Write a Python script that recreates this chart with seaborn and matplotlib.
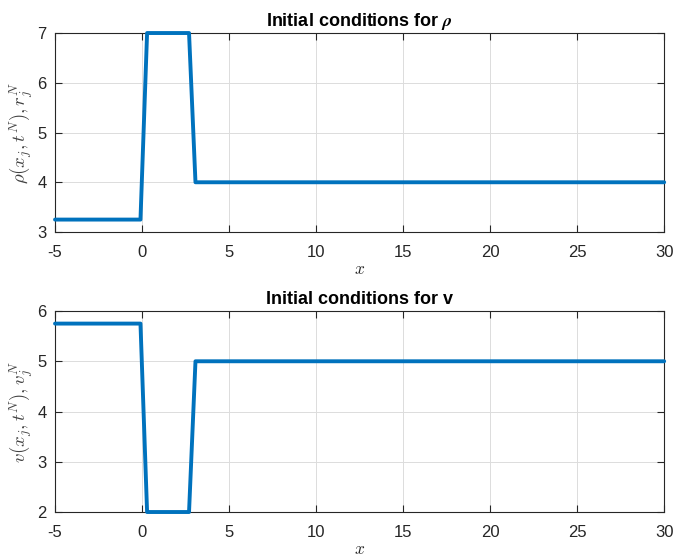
import matplotlib
matplotlib.use("Agg")
import matplotlib.pyplot as plt
import seaborn as sns
import pandas as pd

# Initial state sampled on the grid
x_nodes = [-5.0, -0.09, 0.29, 2.70, 3.07, 30.0]
rho_vals = [3.25, 3.25, 7.0, 7.0, 4.0, 4.0]
v_vals = [5.75, 5.75, 2.0, 2.0, 5.0, 5.0]

x_ticks = [-5, 0, 5, 10, 15, 20, 25, 30]
rho_ticks = [3, 4, 5, 6, 7]
v_ticks = [2, 3, 4, 5, 6]

sns.set_theme(style="whitegrid")
plt.rcParams["font.family"] = ["Liberation Sans", "DejaVu Sans"]
plt.rcParams["mathtext.fontset"] = "cm"

line_color = "#0072BD"
dark = "#262626"

fig = plt.figure(figsize=(6.75, 5.56), dpi=100)
ax1 = fig.add_axes([0.0815, 0.5827, 0.9025, 0.3579])
ax2 = fig.add_axes([0.0815, 0.0791, 0.9025, 0.3615])

df = pd.DataFrame({"x": x_nodes, "rho": rho_vals, "v": v_vals})

panels = [
    (ax1, "rho", rho_ticks, r"$\rho(x_j,t^N),r_j^N$", r"Initial conditions for $\boldsymbol{\rho}$"),
    (ax2, "v", v_ticks, r"$v(x_j,t^N),v_j^N$", "Initial conditions for v"),
]

for ax, col, yt, ylab, title in panels:
    sns.lineplot(data=df, x="x", y=col, ax=ax, color=line_color,
                 linewidth=2.8, sort=False, estimator=None, clip_on=False,
                 zorder=3)
    ax.set_xlim(-5, 30)
    ax.set_ylim(yt[0], yt[-1])
    ax.set_xticks(x_ticks)
    ax.set_yticks(yt)
    ax.set_xticklabels([str(t) for t in x_ticks])
    ax.set_yticklabels([str(t) for t in yt])
    ax.set_facecolor("white")
    ax.grid(True, color="#dcdcdc", linewidth=0.7)
    for s in ax.spines.values():
        s.set_visible(True)
        s.set_color(dark)
        s.set_linewidth(0.8)
    ax.tick_params(axis="both", which="both", direction="in", length=5,
                   width=0.8, color=dark, labelcolor=dark, labelsize=12,
                   top=True, right=True, bottom=True, left=True)
    ax.tick_params(axis="x", pad=9)
    ax.tick_params(axis="y", pad=6)
    ax.set_xlabel(r"$x$", fontsize=12.5, color=dark, labelpad=2)
    ax.set_ylabel(ylab, fontsize=13.5, color="#404040", labelpad=1)
    ax.set_title(title, fontsize=13, fontweight="bold", color="black", pad=5)

fig.savefig("out.png", dpi=100, facecolor="white")
